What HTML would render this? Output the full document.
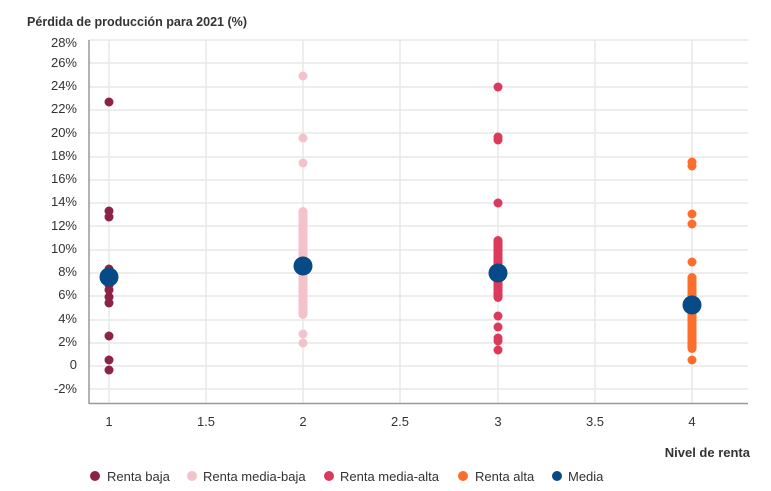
<!DOCTYPE html>
<html><head><meta charset="utf-8"><style>
body{margin:0;background:#fff;}
svg text{font-family:"Liberation Sans",sans-serif;fill:#333;}
</style></head><body>
<svg width="771" height="486" xmlns="http://www.w3.org/2000/svg">
<text x="27" y="26" font-size="13" font-weight="bold" fill="#222" textLength="220" lengthAdjust="spacingAndGlyphs">Pérdida de producción para 2021 (%)</text>
<g stroke="#e8e8e8" stroke-width="1.5">
<line x1="89" x2="748" y1="40" y2="40"/><line x1="89" x2="748" y1="63" y2="63"/>
<line x1="89" x2="748" y1="87" y2="87"/><line x1="89" x2="748" y1="110" y2="110"/>
<line x1="89" x2="748" y1="133" y2="133"/><line x1="89" x2="748" y1="157" y2="157"/>
<line x1="89" x2="748" y1="180" y2="180"/><line x1="89" x2="748" y1="203" y2="203"/>
<line x1="89" x2="748" y1="226" y2="226"/><line x1="89" x2="748" y1="250" y2="250"/>
<line x1="89" x2="748" y1="273" y2="273"/><line x1="89" x2="748" y1="296" y2="296"/>
<line x1="89" x2="748" y1="320" y2="320"/><line x1="89" x2="748" y1="343" y2="343"/>
<line x1="89" x2="748" y1="366" y2="366"/><line x1="89" x2="748" y1="389" y2="389"/>
<line x1="109" x2="109" y1="40" y2="403"/><line x1="206" x2="206" y1="40" y2="403"/>
<line x1="303" x2="303" y1="40" y2="403"/><line x1="400" x2="400" y1="40" y2="403"/>
<line x1="498" x2="498" y1="40" y2="403"/><line x1="595" x2="595" y1="40" y2="403"/>
<line x1="692" x2="692" y1="40" y2="403"/>
</g>
<line x1="89" x2="89" y1="40" y2="404" stroke="#999" stroke-width="1.5"/>
<line x1="89" x2="748" y1="403.5" y2="403.5" stroke="#999" stroke-width="1.5"/>
<g font-size="13" text-anchor="end">
<text x="77" y="47">28%</text><text x="77" y="67">26%</text><text x="77" y="90">24%</text>
<text x="77" y="113">22%</text><text x="77" y="137">20%</text><text x="77" y="160">18%</text>
<text x="77" y="183">16%</text><text x="77" y="206">14%</text><text x="77" y="230">12%</text>
<text x="77" y="253">10%</text><text x="77" y="276">8%</text><text x="77" y="299">6%</text>
<text x="77" y="323">4%</text><text x="77" y="346">2%</text><text x="77" y="369">0</text>
<text x="77" y="393">-2%</text>
</g>
<g font-size="13" text-anchor="middle">
<text x="109" y="426">1</text><text x="206" y="426">1.5</text><text x="303" y="426">2</text>
<text x="400" y="426">2.5</text><text x="498" y="426">3</text><text x="595" y="426">3.5</text>
<text x="692" y="426">4</text>
</g>
<text x="750" y="457" font-size="13" font-weight="bold" fill="#222" text-anchor="end">Nivel de renta</text>
<g fill="#8b2346">
<circle cx="109" cy="102" r="4.5"/><circle cx="109" cy="211" r="4.5"/><circle cx="109" cy="217" r="4.5"/>
<circle cx="109" cy="269" r="4.5"/><circle cx="109" cy="274" r="4.5"/><circle cx="109" cy="280" r="4.5"/>
<circle cx="109" cy="285" r="4.5"/><circle cx="109" cy="290" r="4.5"/><circle cx="109" cy="297" r="4.5"/>
<circle cx="109" cy="303" r="4.5"/><circle cx="109" cy="336" r="4.5"/><circle cx="109" cy="360" r="4.5"/>
<circle cx="109" cy="370" r="4.5"/>
</g>
<g fill="#f4c2cb">
<circle cx="303" cy="76" r="4.5"/><circle cx="303" cy="138" r="4.5"/><circle cx="303" cy="163" r="4.5"/>
<rect x="298.5" y="207" width="9" height="112" rx="4.5"/>
<circle cx="303" cy="334" r="4.5"/><circle cx="303" cy="343" r="4.5"/>
</g>
<g fill="#dc3a5a">
<circle cx="498" cy="87" r="4.5"/><circle cx="498" cy="137" r="4.5"/><circle cx="498" cy="140" r="4.5"/>
<circle cx="498" cy="203" r="4.5"/><rect x="493.5" y="236" width="9" height="66" rx="4.5"/>
<circle cx="498" cy="316" r="4.5"/><circle cx="498" cy="327" r="4.5"/><circle cx="498" cy="338" r="4.5"/>
<circle cx="498" cy="341" r="4.5"/><circle cx="498" cy="350" r="4.5"/>
</g>
<g fill="#fd6d2b">
<circle cx="692" cy="162" r="4.5"/><circle cx="692" cy="166" r="4.5"/><circle cx="692" cy="214" r="4.5"/>
<circle cx="692" cy="224" r="4.5"/><circle cx="692" cy="262" r="4.5"/>
<rect x="687.5" y="273" width="9" height="80" rx="4.5"/><circle cx="692" cy="360" r="4.5"/>
</g>
<g fill="#064a87">
<circle cx="109" cy="277" r="9.5"/><circle cx="303" cy="266" r="9.5"/>
<circle cx="498" cy="273" r="9.5"/><circle cx="692" cy="305" r="9.5"/>
</g>
<g font-size="13">
<circle cx="95" cy="476" r="5" fill="#8b2346"/><text x="107" y="481">Renta baja</text>
<circle cx="192" cy="476" r="5" fill="#f4c2cb"/><text x="203" y="481">Renta media-baja</text>
<circle cx="329" cy="476" r="5" fill="#dc3a5a"/><text x="340" y="481">Renta media-alta</text>
<circle cx="463" cy="476" r="5" fill="#fd6d2b"/><text x="475" y="481">Renta alta</text>
<circle cx="557" cy="476" r="5" fill="#064a87"/><text x="568" y="481">Media</text>
</g>
</svg>
</body></html>
